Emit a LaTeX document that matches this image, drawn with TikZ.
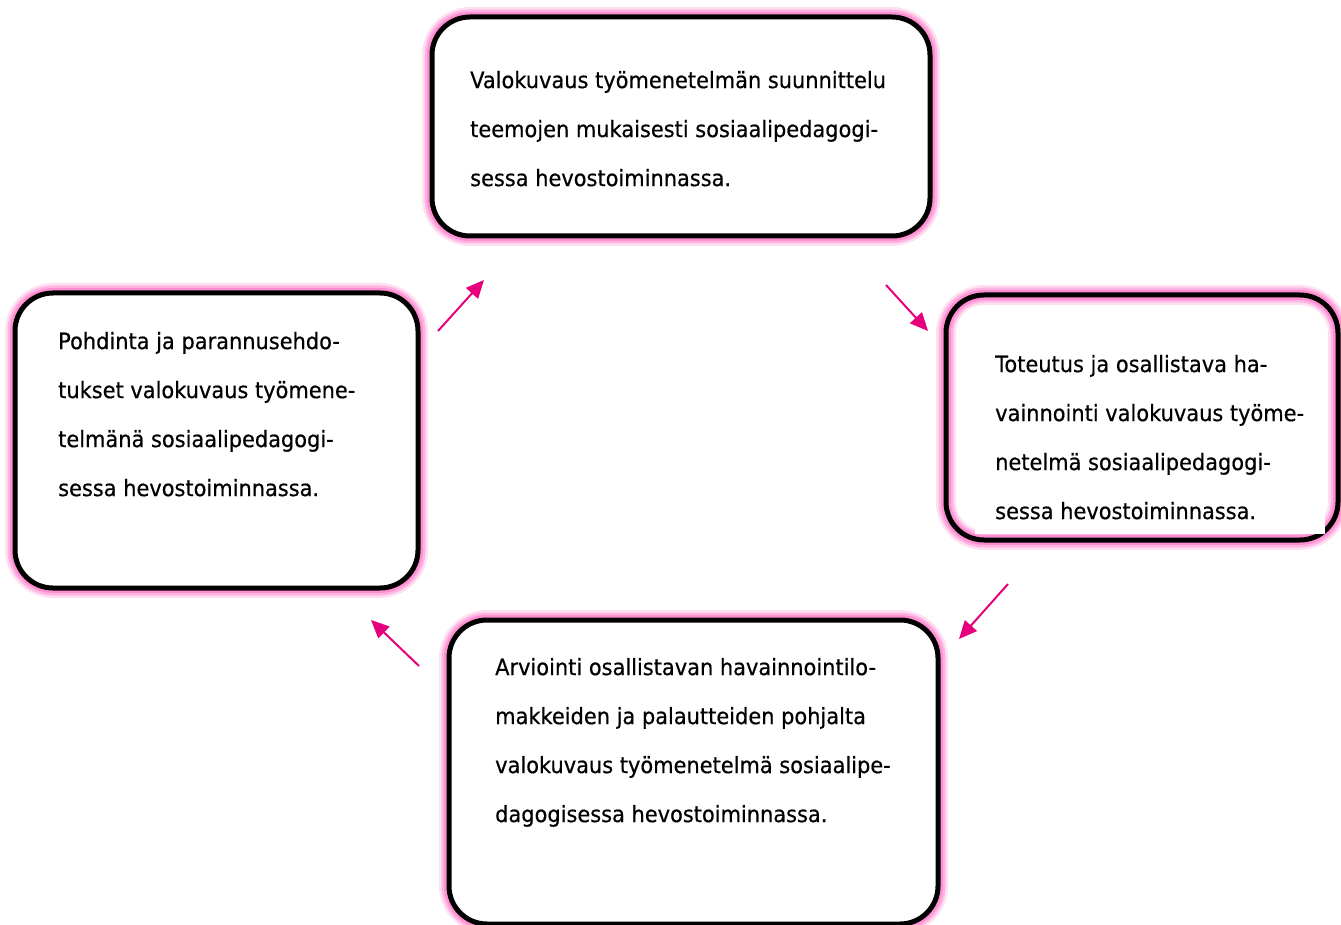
\documentclass[tikz,border=0pt]{standalone}
\usepackage{fontspec}
\setmainfont{DejaVu Sans}[FakeStretch=0.93,FakeBold=0.5]
\usetikzlibrary{arrows.meta}
\definecolor{arrowpink}{RGB}{230,0,126}
\definecolor{glowpink}{RGB}{255,130,205}
\tikzset{
  box/.style={draw=black, line width=5pt, rounded corners=38pt, inner sep=0pt,
    preaction={draw=glowpink, line width=20pt, draw opacity=0.25},
    preaction={draw=glowpink, line width=15pt, draw opacity=0.45},
    preaction={draw=glowpink, line width=10pt, draw opacity=0.75},
    preaction={fill=white}},
  boxin/.style={draw=black, line width=5pt, rounded corners=38pt, inner sep=0pt,
    preaction={fill=white},
    preaction={draw=glowpink, line width=20pt, draw opacity=0.25},
    preaction={draw=glowpink, line width=15pt, draw opacity=0.45},
    preaction={draw=glowpink, line width=10pt, draw opacity=0.75}},
  txt/.style={anchor=north west, inner sep=0pt, align=left,
    font=\fontsize{22.5}{49}\selectfont},
  flow/.style={draw=arrowpink, line width=2pt, -{Triangle[length=18pt,width=16pt]}}
}
\begin{document}
\begin{tikzpicture}[x=1pt,y=-1pt]
\useasboundingbox (0,0) rectangle (1341,925);
% boxes
\node[box, minimum width=498pt, minimum height=219pt] (b1) at (681,126.5) {};
\node[boxin, minimum width=392pt, minimum height=245pt] (b2) at (1142,417.5) {};
\fill[white] (975,345) rectangle (1325,534);
\node[box, minimum width=403pt, minimum height=295pt] (b3) at (216.5,440.5) {};
\node[box, minimum width=489pt, minimum height=304pt] (b4) at (693.5,772) {};
% texts
\node[txt] (t1) at (470,70.8) {Valokuvaus työmenetelmän suunnittelu\\teemojen mukaisesti sosiaalipedagogi-\\sessa hevostoiminnassa.};
\node[txt] (t2) at (995,354.8) {Toteutus ja osallistava ha-\\vainnointi valokuvaus työme-\\netelmä sosiaalipedagogi-\\sessa hevostoiminnassa.};
\node[txt] (t3) at (58,331.8) {Pohdinta ja parannusehdo-\\tukset valokuvaus työmene-\\telmänä sosiaalipedagogi-\\sessa hevostoiminnassa.};
\node[txt] (t4) at (495,657.8) {Arviointi osallistavan havainnointilo-\\makkeiden ja palautteiden pohjalta\\valokuvaus työmenetelmä sosiaalipe-\\dagogisessa hevostoiminnassa.};
% arrows
\coordinate (a1s) at (438,331); \coordinate (a1e) at (484,280);
\coordinate (a2s) at (886,285); \coordinate (a2e) at (928,331);
\coordinate (a3s) at (1008,584); \coordinate (a3e) at (959,639);
\coordinate (a4s) at (419,666); \coordinate (a4e) at (371,620);
\draw[flow] (a1s) -- (a1e);
\draw[flow] (a2s) -- (a2e);
\draw[flow] (a3s) -- (a3e);
\draw[flow] (a4s) -- (a4e);
\end{tikzpicture}
\end{document}
